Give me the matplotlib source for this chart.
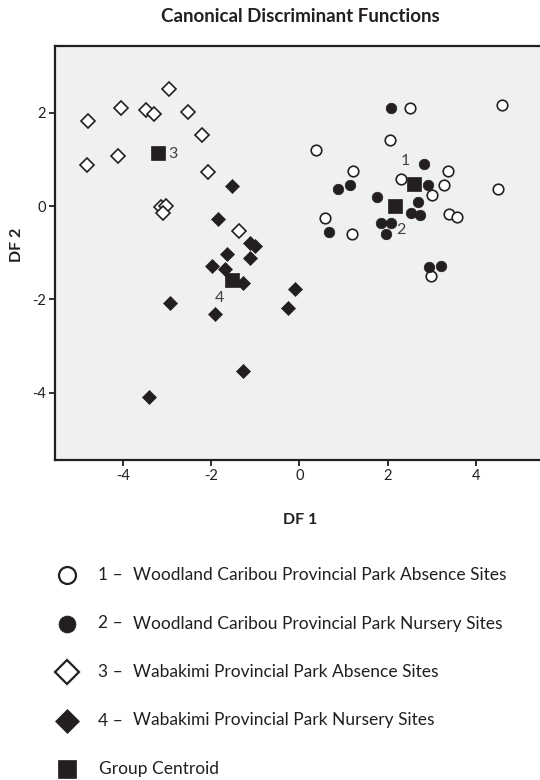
import matplotlib
matplotlib.use("Agg")
import matplotlib.pyplot as plt
from matplotlib.lines import Line2D

plt.rcParams["font.family"] = ["Lato", "DejaVu Sans"]

INK = "#231f20"
PANEL = "#eff0f2"

# group 1 - Woodland Caribou absence (open circles)
g1_x = [2.51, 4.60, 2.05, 0.37, 1.22, 3.38, 2.30, 3.27, 3.00, 4.51, 0.58, 1.20, 3.39, 3.58, 2.98]
g1_y = [2.09, 2.16, 1.41, 1.19, 0.74, 0.74, 0.58, 0.46, 0.24, 0.36, -0.26, -0.59, -0.17, -0.23, -1.51]

# group 2 - Woodland Caribou nursery (filled circles)
g2_x = [2.07, 2.83, 1.15, 0.88, 1.75, 2.91, 2.70, 2.54, 2.74, 1.85, 2.07, 1.97, 0.68, 2.94, 3.21]
g2_y = [2.10, 0.89, 0.44, 0.36, 0.19, 0.44, 0.09, -0.16, -0.19, -0.36, -0.36, -0.59, -0.56, -1.31, -1.29]

# group 3 - Wabakimi absence (open diamonds)
g3_x = [-4.79, -4.05, -3.49, -3.30, -2.96, -2.54, -2.21, -4.83, -4.11, -2.08, -3.14, -3.02, -3.10, -1.37]
g3_y = [1.83, 2.09, 2.06, 1.97, 2.50, 2.01, 1.52, 0.88, 1.07, 0.72, -0.02, 0.01, -0.14, -0.54]

# group 4 - Wabakimi nursery (filled diamonds)
g4_x = [-1.54, -1.86, -1.12, -1.01, -1.65, -1.12, -1.98, -1.70, -1.29, -0.10, -0.25, -2.94, -1.91, -1.28, -3.42]
g4_y = [0.43, -0.28, -0.80, -0.86, -1.03, -1.11, -1.28, -1.36, -1.64, -1.78, -2.18, -2.08, -2.31, -3.54, -4.10]

# group centroids
cent_x = [2.60, 2.16, -3.21, -1.54]
cent_y = [0.48, -0.01, 1.13, -1.59]
cent_labels = ["1", "2", "3", "4"]
cent_offsets = [(-9, 23), (6, -24), (15, -1), (-12, -18)]  # pixels

legend_labels = [
    ("1 \u2013", "Woodland Caribou Provincial Park Absence Sites"),
    ("2 \u2013", "Woodland Caribou Provincial Park Nursery Sites"),
    ("3 \u2013", "Wabakimi Provincial Park Absence Sites"),
    ("4 \u2013", "Wabakimi Provincial Park Nursery Sites"),
    ("", "Group Centroid"),
]

W, H = 540, 780
fig = plt.figure(figsize=(W / 100, H / 100), dpi=100, facecolor="white")

# axes box in pixels: left 54.7, right ~545 (cropped), top 45.7, bottom 459.7
ax = fig.add_axes([54.7 / W, 1 - 459.7 / H, (545 - 54.7) / W, (459.7 - 45.7) / H])
ax.set_facecolor(PANEL)
ax.set_xlim(-5.557, 5.574)
ax.set_ylim(-5.436, 3.435)

ax.plot(g1_x, g1_y, ls="none", marker="o", ms=7.6, mfc="white", mec=INK, mew=1.2, zorder=3)
ax.plot(g2_x, g2_y, ls="none", marker="o", ms=7.6, mfc=INK, mec=INK, mew=0.5, zorder=3)
ax.plot(g3_x, g3_y, ls="none", marker="D", ms=7.4, mfc="white", mec=INK, mew=1.2, zorder=3)
ax.plot(g4_x, g4_y, ls="none", marker="D", ms=7.6, mfc=INK, mec=INK, mew=0.5, zorder=3)
ax.plot(cent_x, cent_y, ls="none", marker="s", ms=10.6, mfc=INK, mec=INK, mew=0.5, zorder=4)

for cx, cy, lab, off in zip(cent_x, cent_y, cent_labels, cent_offsets):
    ax.annotate(lab, xy=(cx, cy), xytext=off, textcoords="offset pixels",
                ha="center", va="center", fontsize=11.5, color="#404040", zorder=5)

ax.set_xticks([-4, -2, 0, 2, 4])
ax.set_yticks([-4, -2, 0, 2])
ax.set_xticklabels(["-4", "-2", "0", "2", "4"])
ax.set_yticklabels(["-4", "-2", "0", "2"])
ax.tick_params(direction="out", length=4.5, width=1.3, pad=2, labelsize=10.5,
               colors=INK, top=False, right=False)
for s in ax.spines.values():
    s.set_edgecolor(INK)
    s.set_linewidth(1.6)

ax.set_xlabel("DF 1", fontsize=11.5, fontweight="bold", color=INK)
ax.xaxis.set_label_coords(0.5, -0.128)
ax.set_ylabel("DF 2", fontsize=11.5, fontweight="bold", color=INK)
ax.yaxis.set_label_coords(-0.062, 0.52)

fig.text(300 / W, 1 - 16 / H, "Canonical Discriminant Functions", ha="center", va="center",
         fontsize=13.5, fontweight="bold", color=INK)

# legend rows drawn by hand in figure pixels
rows_y = [575, 623.5, 672, 720.5, 769]
styles = [
    dict(marker="o", ms=12.2, mfc="white", mec=INK, mew=1.6),
    dict(marker="o", ms=12.2, mfc=INK, mec=INK, mew=0.5),
    dict(marker="D", ms=12.0, mfc="white", mec=INK, mew=1.6),
    dict(marker="D", ms=12.6, mfc=INK, mec=INK, mew=0.5),
    dict(marker="s", ms=13.2, mfc=INK, mec=INK, mew=0.5),
]
for ry, st, (num, text) in zip(rows_y, styles, legend_labels):
    fy = 1 - ry / H
    fig.add_artist(Line2D([66.5 / W], [fy], transform=fig.transFigure, ls="none", **st))
    if num:
        fig.text(98 / W, fy, num, ha="left", va="center", fontsize=12.5, color=INK)
        fig.text(133 / W, fy, text, ha="left", va="center", fontsize=12.5, color=INK)
    else:
        fig.text(99 / W, fy, text, ha="left", va="center", fontsize=12.5, color=INK)

fig.savefig("out.png", dpi=100, facecolor="white")
